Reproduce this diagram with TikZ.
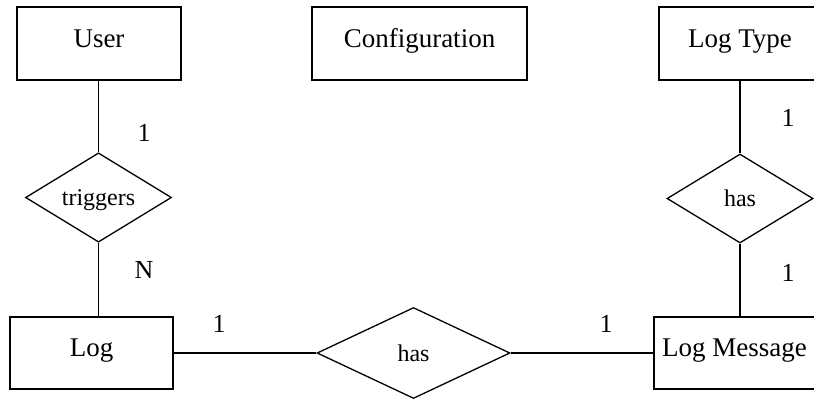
\documentclass[tikz,border=0pt]{standalone}
\usepackage{fontspec}
\setmainfont{Liberation Serif}
\usetikzlibrary{shapes.geometric}
\begin{document}
\begin{tikzpicture}[x=1pt,y=-1pt,
  entity/.style={draw,line width=1.3pt,rectangle,inner sep=0pt,minimum height=73pt,
    font=\fontsize{27}{30}\selectfont,text height=17pt,text depth=10pt},
  relation/.style={draw,line width=1.3pt,diamond,inner sep=0pt,
    font=\fontsize{24}{28}\selectfont,text height=16pt,text depth=0pt},
  card/.style={inner sep=0pt,font=\fontsize{26}{30}\selectfont},
  conn/.style={line width=1.3pt}]
\useasboundingbox (0,0) rectangle (814,399);
% entities
\node[entity,minimum width=164pt] (user) at (99,43.5) {User};
\node[entity,minimum width=215pt] (config) at (419.5,43.5) {Configuration};
\node[entity,minimum width=162pt] (logtype) at (740,43.5) {Log Type};
\node[entity,minimum width=163pt,minimum height=72pt] (log) at (91.5,353) {Log};
\node[entity,minimum width=161pt,minimum height=72pt] (logmsg) at (734.5,353) {Log Message};
% relations
\node[relation,minimum width=146pt,minimum height=89pt] (triggers) at (98.5,197.5) {triggers};
\node[relation,minimum width=146pt,minimum height=89pt] (has2) at (740,198.5) {has};
\node[relation,minimum width=193pt,minimum height=91pt] (has1) at (413.5,353) {has};
% connectors
\draw[conn] (triggers.north |- user.south) -- (triggers.north);
\draw[conn] (triggers.south) -- (triggers.south |- log.north);
\draw[conn] (log.east) -- (has1.west);
\draw[conn] (has1.east) -- (logmsg.west);
\draw[conn] (logtype.south) -- (has2.north);
\draw[conn] (has2.south) -- (has2.south |- logmsg.north);
% cardinalities
\node[card] (c1) at (144,133) {1};
\node[card] (c2) at (144,270) {N};
\node[card] (c3) at (219,324) {1};
\node[card] (c4) at (606,324) {1};
\node[card] (c5) at (788,118) {1};
\node[card] (c6) at (788,273) {1};
\end{tikzpicture}
\end{document}
